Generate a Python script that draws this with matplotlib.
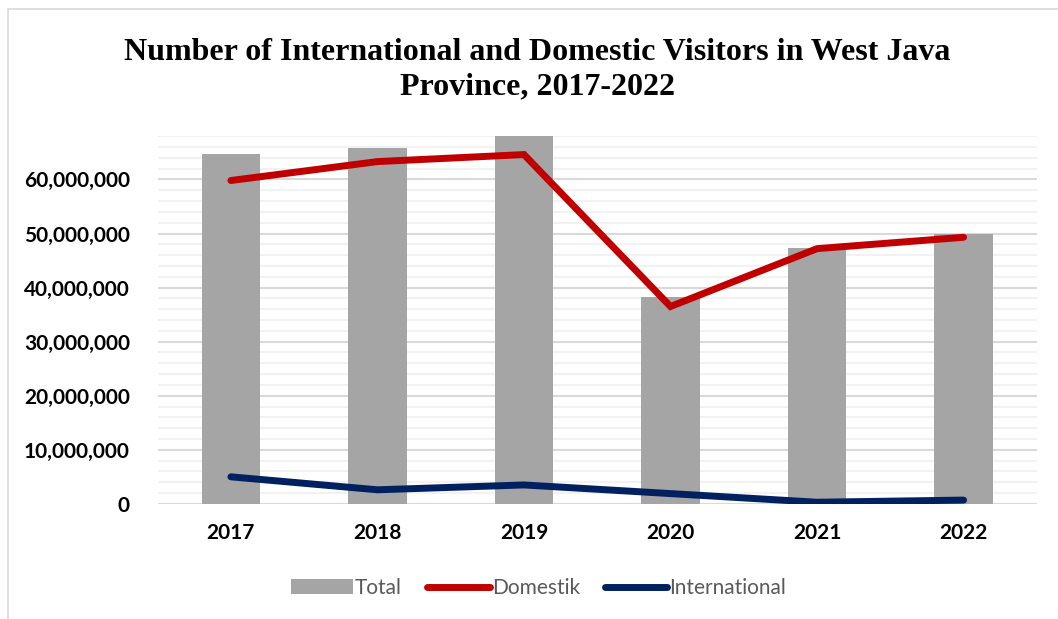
import matplotlib.pyplot as plt
from matplotlib.patches import Rectangle
from matplotlib.ticker import FuncFormatter, MultipleLocator

years = ["2017", "2018", "2019", "2020", "2021", "2022"]
total = [64.7e6, 65.9e6, 68.3e6, 38.3e6, 47.4e6, 50.0e6]
domestik = [59.8e6, 63.3e6, 64.6e6, 36.5e6, 47.2e6, 49.3e6]
international = [5.0e6, 2.6e6, 3.5e6, 1.9e6, 0.3e6, 0.7e6]

fig = plt.figure(figsize=(10.58, 6.19), dpi=100)
ax = fig.add_axes([0.149, 0.186, 0.831, 0.594])

x = range(len(years))
bars = ax.bar(x, total, width=0.4, color="#A5A5A5", label="Total", zorder=2)
l_dom, = ax.plot(x, domestik, color="#C00000", lw=5, solid_capstyle="round",
                 solid_joinstyle="miter", label="Domestik", zorder=3)
l_int, = ax.plot(x, international, color="#002060", lw=5, solid_capstyle="round",
                 label="International", zorder=3)

ax.set_xlim(-0.5, len(years) - 0.5)
ax.set_ylim(0, 68e6)
ax.yaxis.set_major_locator(MultipleLocator(10e6))
ax.yaxis.set_minor_locator(MultipleLocator(2e6))
ax.yaxis.set_major_formatter(FuncFormatter(lambda v, p: f"{int(v):,}"))
ax.grid(which="minor", axis="y", color="#F2F2F2", lw=1.5, zorder=0)
ax.grid(which="major", axis="y", color="#D9D9D9", lw=1.5, zorder=1)
ax.set_axisbelow(True)

ax.set_xticks(list(x))
ax.set_xticklabels(years)
for s in ax.spines.values():
    s.set_visible(False)
ax.tick_params(which="both", length=0)
ax.tick_params(axis="y", pad=20)
ax.tick_params(axis="x", pad=14)
for lab in ax.get_yticklabels() + ax.get_xticklabels():
    lab.set_fontfamily("Lato")
    lab.set_fontweight("bold")
    lab.set_fontsize(15)
    lab.set_color("black")

fig.text(0.508, 0.887, "Number of International and Domestic Visitors in West Java\nProvince, 2017-2022",
         ha="center", va="center", fontsize=23, fontweight="bold",
         family="Liberation Serif", linespacing=1.25)

leg = fig.legend([bars, l_dom, l_int], ["Total", "Domestik", "International"],
                 loc="center", bbox_to_anchor=(0.509, 0.05), ncol=3, frameon=False,
                 handlelength=3.0, handletextpad=0.1, columnspacing=1.2,
                 prop={"family": "Lato", "size": 15})
for t in leg.get_texts():
    t.set_color("#595959")

fig.patches.append(Rectangle((0.008, -0.01), 1.0, 0.995, transform=fig.transFigure,
                             fill=False, edgecolor="#D9D9D9", lw=1.2))

fig.savefig("out.png", dpi=100)
